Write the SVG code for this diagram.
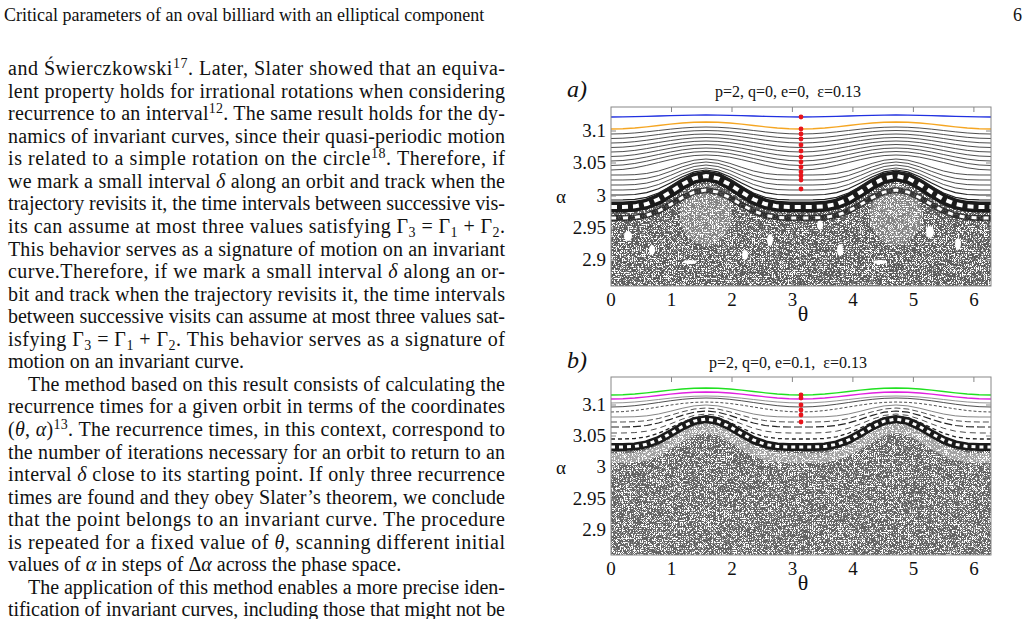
<svg xmlns="http://www.w3.org/2000/svg" xmlns:xlink="http://www.w3.org/1999/xlink" width="1029" height="619" viewBox="0 0 1029 619">
<style>
.t{font-family:"Liberation Serif","Times New Roman",serif;font-size:20px;fill:#111}
.h{font-family:"Liberation Serif","Times New Roman",serif;font-size:18px;fill:#111}
.su{font-size:14px}
.sb{font-size:14px}
.it{font-style:italic}
.tk{font-family:"Liberation Serif","Times New Roman",serif;font-size:19px;fill:#111}
.ti{font-family:"Liberation Serif","Times New Roman",serif;font-size:16px;fill:#111}
.pl{font-family:"Liberation Serif","Times New Roman",serif;font-size:24px;font-style:italic;fill:#111}
.c{fill:none;stroke:#222;stroke-width:0.8}
.box{fill:none;stroke:#888;stroke-width:1}
.tick{stroke:#888;stroke-width:1}
.rd{fill:#e8141b}
</style>
<defs>
<path id="g2" fill="none" vector-effect="non-scaling-stroke" d="M0,0 1,-.038 2,-.146 3,-.309 4,-.5 5,-.691 6,-.854 7,-.962 8,-1 9,-.962 10,-.854 11,-.691 12,-.5 13,-.309 14,-.146 15,-.038 16,0 17,-.038 18,-.146 19,-.309 20,-.5 21,-.691 22,-.854 23,-.962 24,-1 25,-.962 26,-.854 27,-.691 28,-.5 29,-.309 30,-.146 31,-.038 32,0"/>
<path id="g4" fill="none" vector-effect="non-scaling-stroke" d="M0,0 1,-.001 2,-.021 3,-.095 4,-.25 5,-.478 6,-.729 7,-.925 8,-1 9,-.925 10,-.729 11,-.478 12,-.25 13,-.095 14,-.021 15,-.001 16,0 17,-.001 18,-.021 19,-.095 20,-.25 21,-.478 22,-.729 23,-.925 24,-1 25,-.925 26,-.729 27,-.478 28,-.25 29,-.095 30,-.021 31,-.001 32,0"/>
<filter id="noise" x="0" y="0" width="1" height="1">
<feTurbulence type="fractalNoise" baseFrequency="1.5" numOctaves="1" seed="4"/>
<feColorMatrix type="matrix" values="0 0 0 0 0.1  0 0 0 0 0.1  0 0 0 0 0.1  -14 0 0 0 7.9"/>
</filter>
<clipPath id="clipA"><path d="M611,286 L611,205 622.9,205 634.8,204.3 646.6,202 658.5,197 670.4,189.7 682.3,181.7 694.1,175.4 706,173 717.9,175.4 729.8,181.7 741.6,189.7 753.5,197 765.4,202 777.3,204.3 789.1,205 801,205 812.9,205 824.8,204.3 836.6,202 848.5,197 860.4,189.7 872.3,181.7 884.1,175.4 896,173 907.9,175.4 919.8,181.7 931.6,189.7 943.5,197 955.4,202 967.3,204.3 979.1,205 991,205 991,286 Z"/></clipPath>
<clipPath id="clipB"><path d="M611,537 L611,428 622.9,428 634.8,427.4 646.6,425.5 658.5,421 670.4,415 682.3,408 694.1,403 706,401 717.9,403 729.8,408 741.6,415 753.5,421 765.4,425.5 777.3,427.4 789.1,428 801,428 812.9,428 824.8,427.4 836.6,425.5 848.5,421 860.4,415 872.3,408 884.1,403 896,401 907.9,403 919.8,408 931.6,415 943.5,421 955.4,425.5 967.3,427.4 979.1,428 991,428 991,537 Z"/></clipPath>
</defs>

<g id="header">
<text class="h" x="4" y="21">Critical parameters of an oval billiard with an elliptical component</text>
<text class="h" x="1022" y="21" text-anchor="end">6</text>
</g>

<g id="body" class="t">
<text x="8" y="75" textLength="497" lengthAdjust="spacing">and Świerczkowski<tspan class="su" dy="-7">17</tspan><tspan dy="7">. Later, Slater showed that an equiva-</tspan></text>
<text x="8" y="97.6" textLength="497" lengthAdjust="spacing">lent property holds for irrational rotations when considering</text>
<text x="8" y="120.1" textLength="497" lengthAdjust="spacing">recurrence to an interval<tspan class="su" dy="-7">12</tspan><tspan dy="7">. The same result holds for the dy-</tspan></text>
<text x="8" y="142.7" textLength="497" lengthAdjust="spacing">namics of invariant curves, since their quasi-periodic motion</text>
<text x="8" y="165.2" textLength="497" lengthAdjust="spacing">is related to a simple rotation on the circle<tspan class="su" dy="-7">18</tspan><tspan dy="7">. Therefore, if</tspan></text>
<text x="8" y="187.8" textLength="497" lengthAdjust="spacing">we mark a small interval <tspan class="it">δ</tspan> along an orbit and track when the</text>
<text x="8" y="210.4" textLength="497" lengthAdjust="spacing">trajectory revisits it, the time intervals between successive vis-</text>
<text x="8" y="232.9" textLength="497" lengthAdjust="spacing">its can assume at most three values satisfying Γ<tspan class="sb" dy="4">3</tspan><tspan dy="-4"> = Γ</tspan><tspan class="sb" dy="4">1</tspan><tspan dy="-4"> + Γ</tspan><tspan class="sb" dy="4">2</tspan><tspan dy="-4">.</tspan></text>
<text x="8" y="255.5" textLength="497" lengthAdjust="spacing">This behavior serves as a signature of motion on an invariant</text>
<text x="8" y="278" textLength="497" lengthAdjust="spacing">curve.Therefore, if we mark a small interval <tspan class="it">δ</tspan> along an or-</text>
<text x="8" y="300.6" textLength="497" lengthAdjust="spacing">bit and track when the trajectory revisits it, the time intervals</text>
<text x="8" y="323.2" textLength="497" lengthAdjust="spacing">between successive visits can assume at most three values sat-</text>
<text x="8" y="345.7" textLength="497" lengthAdjust="spacing">isfying Γ<tspan class="sb" dy="4">3</tspan><tspan dy="-4"> = Γ</tspan><tspan class="sb" dy="4">1</tspan><tspan dy="-4"> + Γ</tspan><tspan class="sb" dy="4">2</tspan><tspan dy="-4">. This behavior serves as a signature of</tspan></text>
<text x="8" y="368.3">motion on an invariant curve.</text>
<text x="28" y="390.8" textLength="477" lengthAdjust="spacing">The method based on this result consists of calculating the</text>
<text x="8" y="413.4" textLength="497" lengthAdjust="spacing">recurrence times for a given orbit in terms of the coordinates</text>
<text x="8" y="436" textLength="497" lengthAdjust="spacing">(<tspan class="it">θ</tspan>, <tspan class="it">α</tspan>)<tspan class="su" dy="-7">13</tspan><tspan dy="7">. The recurrence times, in this context, correspond to</tspan></text>
<text x="8" y="458.5" textLength="497" lengthAdjust="spacing">the number of iterations necessary for an orbit to return to an</text>
<text x="8" y="481.1" textLength="497" lengthAdjust="spacing">interval <tspan class="it">δ</tspan> close to its starting point. If only three recurrence</text>
<text x="8" y="503.6" textLength="497" lengthAdjust="spacing">times are found and they obey Slater’s theorem, we conclude</text>
<text x="8" y="526.2" textLength="497" lengthAdjust="spacing">that the point belongs to an invariant curve. The procedure</text>
<text x="8" y="548.8" textLength="497" lengthAdjust="spacing">is repeated for a fixed value of <tspan class="it">θ</tspan>, scanning different initial</text>
<text x="8" y="571.3">values of <tspan class="it">α</tspan> in steps of Δ<tspan class="it">α</tspan> across the phase space.</text>
<text x="28" y="593.9" textLength="477" lengthAdjust="spacing">The application of this method enables a more precise iden-</text>
<text x="8" y="616.4" textLength="497" lengthAdjust="spacing">tification of invariant curves, including those that might not be</text>
</g>

<g id="panelA">
<text class="pl" x="567" y="97">a)</text>
<text class="ti" x="788" y="97" text-anchor="middle">p=2, q=0, e=0,&#160; ε=0.13</text>
<rect x="611" y="170" width="380" height="116" filter="url(#noise)" clip-path="url(#clipA)"/>
<ellipse cx="706" cy="215" rx="26" ry="30" fill="#fff" opacity="0.25"/>
<ellipse cx="896" cy="215" rx="26" ry="30" fill="#fff" opacity="0.25"/>
<g fill="#fff">
<ellipse cx="628" cy="236" rx="4" ry="5"/><ellipse cx="652" cy="250" rx="3" ry="5"/><ellipse cx="690" cy="262" rx="7" ry="2"/><ellipse cx="770" cy="240" rx="3" ry="6"/><ellipse cx="820" cy="225" rx="3" ry="5"/><ellipse cx="840" cy="250" rx="3" ry="6"/><ellipse cx="880" cy="262" rx="7" ry="2"/><ellipse cx="930" cy="232" rx="4" ry="6"/><ellipse cx="958" cy="244" rx="3" ry="6"/><ellipse cx="745" cy="255" rx="3" ry="5"/>
</g>
<use href="#g4" transform="translate(611,207) scale(11.875,31)" stroke="#1a1a1a" stroke-width="11"/>
<use href="#g4" transform="translate(611,207) scale(11.875,31)" stroke="#fff" stroke-width="4" stroke-dasharray="6 5"/>
<use href="#g4" transform="translate(611,218) scale(11.875,28)" stroke="#222" stroke-width="6" opacity="0.8"/>
<use href="#g4" transform="translate(611,218) scale(11.875,28)" stroke="#fff" stroke-width="3" stroke-dasharray="5 7"/>
<g class="c">
<use href="#g2" transform="translate(611,134) scale(11.875,7)"/>
<use href="#g2" transform="translate(611,138.5) scale(11.875,8)"/>
<use href="#g2" transform="translate(611,143) scale(11.875,9)"/>
<use href="#g2" transform="translate(611,147.5) scale(11.875,10)"/>
<use href="#g2" transform="translate(611,152) scale(11.875,11)"/>
<use href="#g2" transform="translate(611,156.5) scale(11.875,12)"/>
<use href="#g2" transform="translate(611,161) scale(11.875,13)"/>
<use href="#g2" transform="translate(611,165.5) scale(11.875,14)"/>
<use href="#g2" transform="translate(611,170) scale(11.875,15)"/>
<use href="#g4" transform="translate(611,175) scale(11.875,16)"/>
<use href="#g4" transform="translate(611,180) scale(11.875,18)"/>
<use href="#g4" transform="translate(611,185) scale(11.875,20)"/>
<use href="#g4" transform="translate(611,190) scale(11.875,22)"/>
<use href="#g4" transform="translate(611,195) scale(11.875,25)" stroke-width="1.2"/>
<use href="#g4" transform="translate(611,200) scale(11.875,28)" stroke-width="1.2"/>
</g>
<use href="#g2" transform="translate(611,129) scale(11.875,7)" stroke="#f5a623" stroke-width="1.3"/>
<use href="#g2" transform="translate(611,117) scale(11.875,2)" stroke="#2030e0" stroke-width="1.3"/>
<g class="rd">
<circle cx="801" cy="117" r="2.4"/><circle cx="801" cy="129" r="2.4"/><circle cx="801" cy="134" r="2.4"/><circle cx="801" cy="139" r="2.4"/><circle cx="801" cy="145" r="2.4"/><circle cx="801" cy="151" r="2.4"/><circle cx="801" cy="157" r="2.4"/><circle cx="801" cy="162" r="2.4"/><circle cx="801" cy="167" r="2.4"/><circle cx="801" cy="172" r="2.4"/><circle cx="801" cy="176" r="2.4"/><circle cx="801" cy="180" r="2.4"/><circle cx="801" cy="189" r="2.4"/>
</g>
<rect class="box" x="611" y="107" width="380" height="179"/>
<g class="tick">
<path d="M671.5,107v5M732,107v5M792.4,107v5M852.9,107v5M913.4,107v5M973.9,107v5M671.5,286v-5M732,286v-5M792.4,286v-5M852.9,286v-5M913.4,286v-5M973.9,286v-5"/>
<path d="M611,131h5M611,163h5M611,196h5M611,228h5M611,260h5M991,131h-5M991,163h-5M991,196h-5M991,228h-5M991,260h-5"/>
</g>
<g class="tk" text-anchor="end">
<text x="606" y="137">3.1</text><text x="606" y="169">3.05</text><text x="606" y="202">3</text><text x="606" y="234">2.95</text><text x="606" y="266">2.9</text>
</g>
<text class="tk" x="556" y="203" font-size="22">α</text>
<g class="tk" text-anchor="middle">
<text x="611" y="306">0</text><text x="671.5" y="306">1</text><text x="732" y="306">2</text><text x="792.4" y="306">3</text><text x="852.9" y="306">4</text><text x="913.4" y="306">5</text><text x="973.9" y="306">6</text>
<text x="803" y="321" font-size="22">θ</text>
</g>
</g>

<g id="panelB" transform="translate(0,18)">
<text class="pl" x="567" y="350">b)</text>
<text class="ti" x="788" y="350" text-anchor="middle">p=2, q=0, e=0.1,&#160; ε=0.13</text>
<rect x="611" y="395" width="380" height="142" filter="url(#noise)" clip-path="url(#clipB)" opacity="0.95"/>
<use href="#g4" transform="translate(611,440) scale(11.875,30)" stroke="#fff" stroke-width="10" opacity="0.4"/>
<use href="#g4" transform="translate(611,429) scale(11.875,28)" stroke="#1a1a1a" stroke-width="8"/>
<use href="#g4" transform="translate(611,429) scale(11.875,28)" stroke="#fff" stroke-width="3" stroke-dasharray="4 4"/>
<g class="c">
<use href="#g2" transform="translate(611,385) scale(11.875,7)" stroke="#777"/>
<use href="#g2" transform="translate(611,389) scale(11.875,9)"/>
<use href="#g2" transform="translate(611,394) scale(11.875,10)" stroke-dasharray="3 2"/>
<use href="#g4" transform="translate(611,399) scale(11.875,12)" stroke="#666"/>
<use href="#g4" transform="translate(611,404) scale(11.875,14)" stroke-dasharray="6 3"/>
<use href="#g4" transform="translate(611,409) scale(11.875,16)" stroke-width="1.2" stroke-dasharray="8 3"/>
<use href="#g4" transform="translate(611,415) scale(11.875,19)" stroke-dasharray="6 4"/>
<use href="#g4" transform="translate(611,421) scale(11.875,23)" stroke-width="1.3" stroke-dasharray="4 3"/>
</g>
<use href="#g2" transform="translate(611,381) scale(11.875,7)" stroke="#e020e0" stroke-width="1.3"/>
<use href="#g2" transform="translate(611,377) scale(11.875,7)" stroke="#20e020" stroke-width="1.3"/>
<g class="rd">
<circle cx="801" cy="377" r="2.4"/><circle cx="801" cy="380" r="2.4"/><circle cx="801" cy="387" r="2.4"/><circle cx="801" cy="392" r="2.4"/><circle cx="801" cy="397" r="2.4"/><circle cx="801" cy="404" r="2.4"/>
</g>
<rect class="box" x="611" y="359" width="380" height="178"/>
<g class="tick">
<path d="M671.5,359v5M732,359v5M792.4,359v5M852.9,359v5M913.4,359v5M973.9,359v5M671.5,537v-5M732,537v-5M792.4,537v-5M852.9,537v-5M913.4,537v-5M973.9,537v-5"/>
<path d="M611,387h5M611,418h5M611,449h5M611,481h5M611,512h5M991,387h-5M991,418h-5M991,449h-5M991,481h-5M991,512h-5"/>
</g>
<g class="tk" text-anchor="end">
<text x="606" y="393">3.1</text><text x="606" y="424">3.05</text><text x="606" y="455">3</text><text x="606" y="487">2.95</text><text x="606" y="518">2.9</text>
</g>
<text class="tk" x="556" y="456" font-size="22">α</text>
<g class="tk" text-anchor="middle">
<text x="611" y="557">0</text><text x="671.5" y="557">1</text><text x="732" y="557">2</text><text x="792.4" y="557">3</text><text x="852.9" y="557">4</text><text x="913.4" y="557">5</text><text x="973.9" y="557">6</text>
<text x="803" y="572" font-size="22">θ</text>
</g>
</g>
</svg>
